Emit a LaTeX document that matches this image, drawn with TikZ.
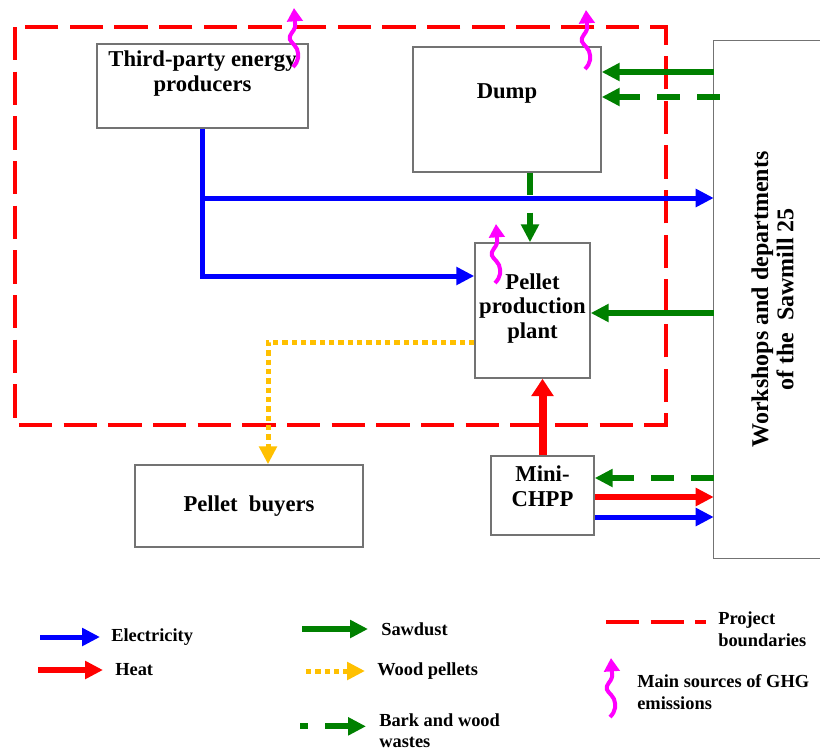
\documentclass[tikz,border=0pt]{standalone}
\usepackage{fontspec}
\setmainfont{Liberation Serif}
\usepackage{xcolor}
\definecolor{elecblue}{RGB}{0,0,255}
\definecolor{heatred}{RGB}{255,0,0}
\definecolor{sawgreen}{RGB}{0,128,0}
\definecolor{pelletyellow}{RGB}{255,192,0}
\definecolor{ghgmagenta}{RGB}{255,0,255}
\usetikzlibrary{arrows.meta, positioning}

\begin{document}
\begin{tikzpicture}[x=0.75pt, y=-0.75pt,
	box/.style={rectangle, draw=black!55, line width=1.1pt, inner sep=0pt},
	txt/.style={font=\fontsize{17}{18.4}\selectfont\bfseries, align=center, inner sep=0pt},
	legtxt/.style={font=\fontsize{13.8}{16.5}\selectfont\bfseries, align=left, anchor=west, inner sep=0pt},
	flow/.style={-{Triangle[length=13.5pt,width=13pt]}},
	elec/.style={flow, draw=elecblue, line width=3.75pt},
	heat/.style={flow, draw=heatred, line width=4.5pt},
	saw/.style={flow, draw=sawgreen, line width=4.5pt},
	bark/.style={saw, dash pattern=on 17pt off 13pt},
	pellet/.style={flow, draw=pelletyellow, line width=3.75pt, dash pattern=on 4pt off 3pt},
	boundary/.style={draw=heatred, line width=3pt, dash pattern=on 25pt off 8.5pt},
	ghg/.style={-{Triangle[length=10pt,width=11.5pt]}, draw=ghgmagenta, line width=3pt},
	pics/ghgsrc/.style={code={
		\draw[ghg] (0,0) .. controls (6,-6) and (6,-12) .. (4,-18)
			.. controls (1,-24) and (-5,-26) .. (-3,-31)
			.. controls (-1,-36) and (3,-37) .. (2,-44) -- (1,-59);}}
	]
\useasboundingbox (0,0) rectangle (820,753);

% project boundaries
\draw[boundary] (15,27) rectangle (666,425);

% boxes
\node[box, minimum width=158.25pt, minimum height=63pt,
	label={[txt, yshift=9.4pt]center:{Third-party energy\\producers}}] (tp) at (202.5,86) {};
\node[box, minimum width=141pt, minimum height=93.75pt,
	label={[txt, yshift=12pt]center:{Dump}}] (dump) at (507,109.5) {};
\node[box, minimum width=86.25pt, minimum height=101.25pt,
	label={[txt, yshift=1.5pt]center:{Pellet\\production\\plant}}] (pp) at (532.5,310.5) {};
\node[box, minimum width=171pt, minimum height=61.5pt,
	label={[txt]center:{Pellet\ \ buyers}}] (pb) at (249,506) {};
\node[box, minimum width=77.25pt, minimum height=59.25pt,
	label={[txt, yshift=7pt]center:{Mini-\\CHPP}}] (chpp) at (542.5,495.5) {};
\node[rectangle, inner sep=0pt, minimum width=81pt, minimum height=387.75pt,
	label={[txt, font=\fontsize{18}{18.8}\selectfont\bfseries, xshift=3.4pt, rotate=90]center:{Workshops and departments\\of the\ \ Sawmill 25}}] (ws) at (768,299.5) {};
\draw[draw=black!55, line width=1.1pt] (ws.north east) -- (ws.north west) -- (ws.south west) -- (ws.south east);

% flows
\draw[elec] (tp.south) |- (pp.west |- 0,276);
\draw[elec] (tp.south |- 0,198) -- (ws.west |- 0,198);
\draw[saw] (ws.west |- 0,72) -- (dump.east |- 0,72);
\draw[bark] ([xshift=4.5pt]ws.west |- 0,97) -- (dump.east |- 0,97);
\draw[bark] (dump.south -| 530,0) -- (pp.north -| 530,0);
\draw[saw] (ws.west |- 0,313) -- (pp.east |- 0,313);
\draw[pellet] (pp.west |- 0,342) -| (pb.north -| 268,0);
\draw[heat, line width=6pt, -{Triangle[length=13pt,width=16pt]}] (chpp.north) -- (chpp.north |- pp.south);
\draw[bark] (ws.west |- 0,478) -- (chpp.east |- 0,478);
\draw[heat] (chpp.east |- 0,497) -- (ws.west |- 0,497);
\draw[elec] (chpp.east |- 0,517) -- (ws.west |- 0,517);

% GHG sources
\pic at (293,67) {ghgsrc};
\pic at (585,69) {ghgsrc};
\pic at (495,283) {ghgsrc};

% legend
\node[legtxt] (lgelec) at (111,637) {Electricity};
\draw[elec] ([xshift=-53.25pt]lgelec.west) -- ([xshift=-8.25pt]lgelec.west);
\node[legtxt] (lgheat) at (115,670) {Heat};
\draw[heat] ([xshift=-57.75pt]lgheat.west) -- ([xshift=-9pt]lgheat.west);
\node[legtxt] (lgsaw) at (381,629) {Sawdust};
\draw[saw] ([xshift=-59.25pt]lgsaw.west) -- ([xshift=-9.75pt]lgsaw.west);
\node[legtxt] (lgpel) at (377,671) {Wood pellets};
\draw[pellet] ([xshift=-53.25pt]lgpel.west) -- ([xshift=-9pt]lgpel.west);
\node[legtxt, font=\fontsize{13.8}{15.5}\selectfont\bfseries] (lgbark) at (379,731) {Bark and wood\\wastes};
\draw[bark, dash phase=11pt] ([xshift=-59.25pt, yshift=3.5pt]lgbark.west) -- ([xshift=-9.75pt, yshift=3.5pt]lgbark.west);
\node[legtxt] (lgbound) at (718,629) {Project\\boundaries};
\draw[boundary] ([xshift=-84pt, yshift=5.25pt]lgbound.west) -- ([xshift=-9pt, yshift=5.25pt]lgbound.west);
\node[legtxt] (lgghg) at (637,692.5) {Main sources of GHG\\emissions};
\pic at ([xshift=-20.25pt, yshift=-18.4pt]lgghg.west) {ghgsrc};
\end{tikzpicture}
\end{document}
